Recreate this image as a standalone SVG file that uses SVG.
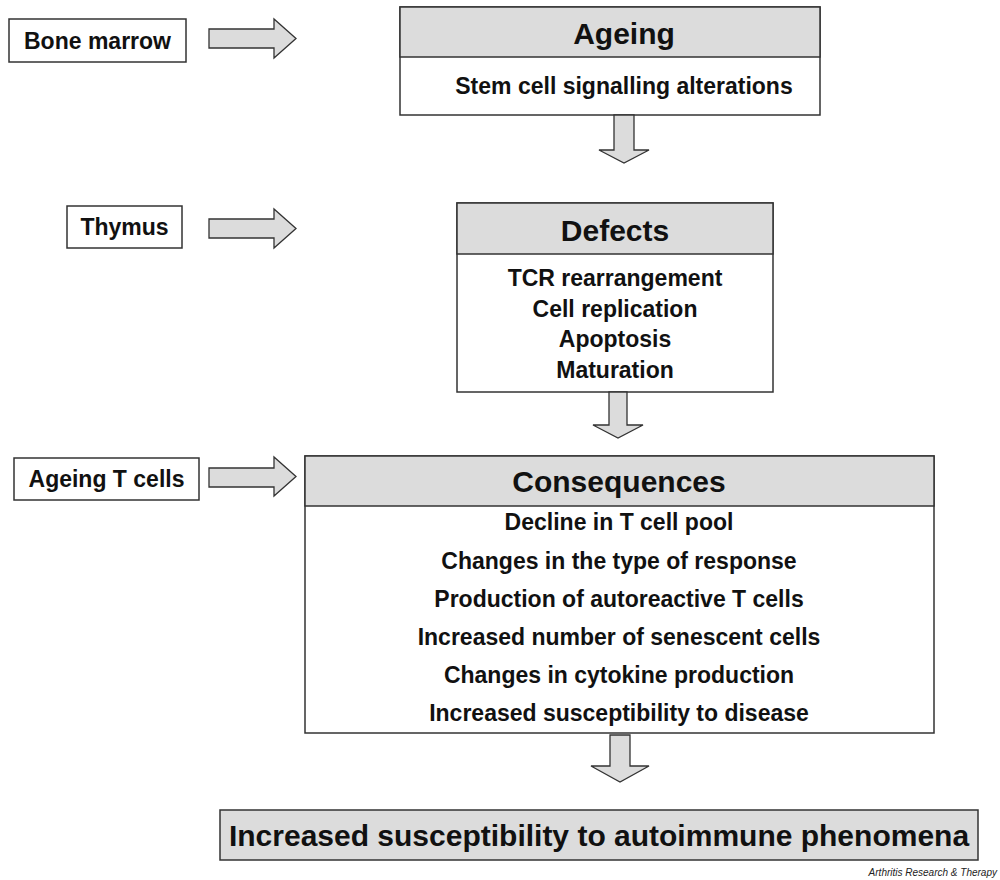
<svg xmlns="http://www.w3.org/2000/svg" width="1000" height="880" viewBox="0 0 1000 880">
<style>
.box{fill:#fff;stroke:#333;stroke-width:1.5}
.hdr{fill:#dcdcdc;stroke:#333;stroke-width:1.5}
.arr{fill:#dcdcdc;stroke:#333;stroke-width:1.3;stroke-linejoin:miter}
text{font-family:"Liberation Sans",Arial,sans-serif;font-weight:bold;fill:#111;text-anchor:middle}
.h{font-size:30px}
.b{font-size:23px}
.s{font-size:23px}
.f{font-size:30px}
.cr{font-size:10px;font-weight:normal;font-style:italic;text-anchor:end;fill:#222}
</style>
<rect width="1000" height="880" fill="#fff"/>
<g id="bone-marrow">
<rect class="box" x="9" y="19" width="177" height="43"/>
<text class="s" x="97.5" y="49">Bone marrow</text>
</g>
<g id="thymus">
<rect class="box" x="67" y="206" width="115" height="42"/>
<text class="s" x="124.5" y="235">Thymus</text>
</g>
<g id="ageing-t-cells">
<rect class="box" x="14" y="458" width="185" height="42"/>
<text class="s" x="106.5" y="487">Ageing T cells</text>
</g>
<g id="ageing">
<rect class="box" x="400" y="7" width="420" height="108"/>
<rect class="hdr" x="400" y="7" width="420" height="50"/>
<text class="h" x="624" y="44">Ageing</text>
<text class="b" x="624" y="94">Stem cell signalling alterations</text>
</g>
<g id="defects">
<rect class="box" x="457" y="203" width="316" height="189"/>
<rect class="hdr" x="457" y="203" width="316" height="51"/>
<text class="h" x="615" y="241">Defects</text>
<text class="b" x="615" y="286">TCR rearrangement</text>
<text class="b" x="615" y="317">Cell replication</text>
<text class="b" x="615" y="347">Apoptosis</text>
<text class="b" x="615" y="378">Maturation</text>
</g>
<g id="consequences">
<rect class="box" x="305" y="456" width="629" height="277"/>
<rect class="hdr" x="305" y="456" width="629" height="50"/>
<text class="h" x="619" y="492">Consequences</text>
<text class="b" x="619" y="530">Decline in T cell pool</text>
<text class="b" x="619" y="569">Changes in the type of response</text>
<text class="b" x="619" y="607">Production of autoreactive T cells</text>
<text class="b" x="619" y="645">Increased number of senescent cells</text>
<text class="b" x="619" y="683">Changes in cytokine production</text>
<text class="b" x="619" y="721">Increased susceptibility to disease</text>
</g>
<g id="outcome">
<rect class="hdr" x="220" y="810" width="758" height="50"/>
<text class="f" x="599" y="846">Increased susceptibility to autoimmune phenomena</text>
</g>
<g id="connectors">
<path class="arr" d="M209,29 H274 V19 L296,38.5 L274,58 V48 H209 Z"/>
<path class="arr" d="M209,219 H274 V209 L296,228.5 L274,248 V238 H209 Z"/>
<path class="arr" d="M209,468 H274 V457 L296,476.5 L274,496 V487 H209 Z"/>
<path class="arr" d="M614,115 V150 H599 L624,163 L649,150 H634 V115 Z"/>
<path class="arr" d="M609,392 V425 H593 L618,438 L643,425 H627 V392 Z"/>
<path class="arr" d="M610,735 V766 H591 L620,782 L649,766 H630 V735 Z"/>
</g>
<text class="cr" x="997" y="876">Arthritis Research &amp; Therapy</text>
</svg>
